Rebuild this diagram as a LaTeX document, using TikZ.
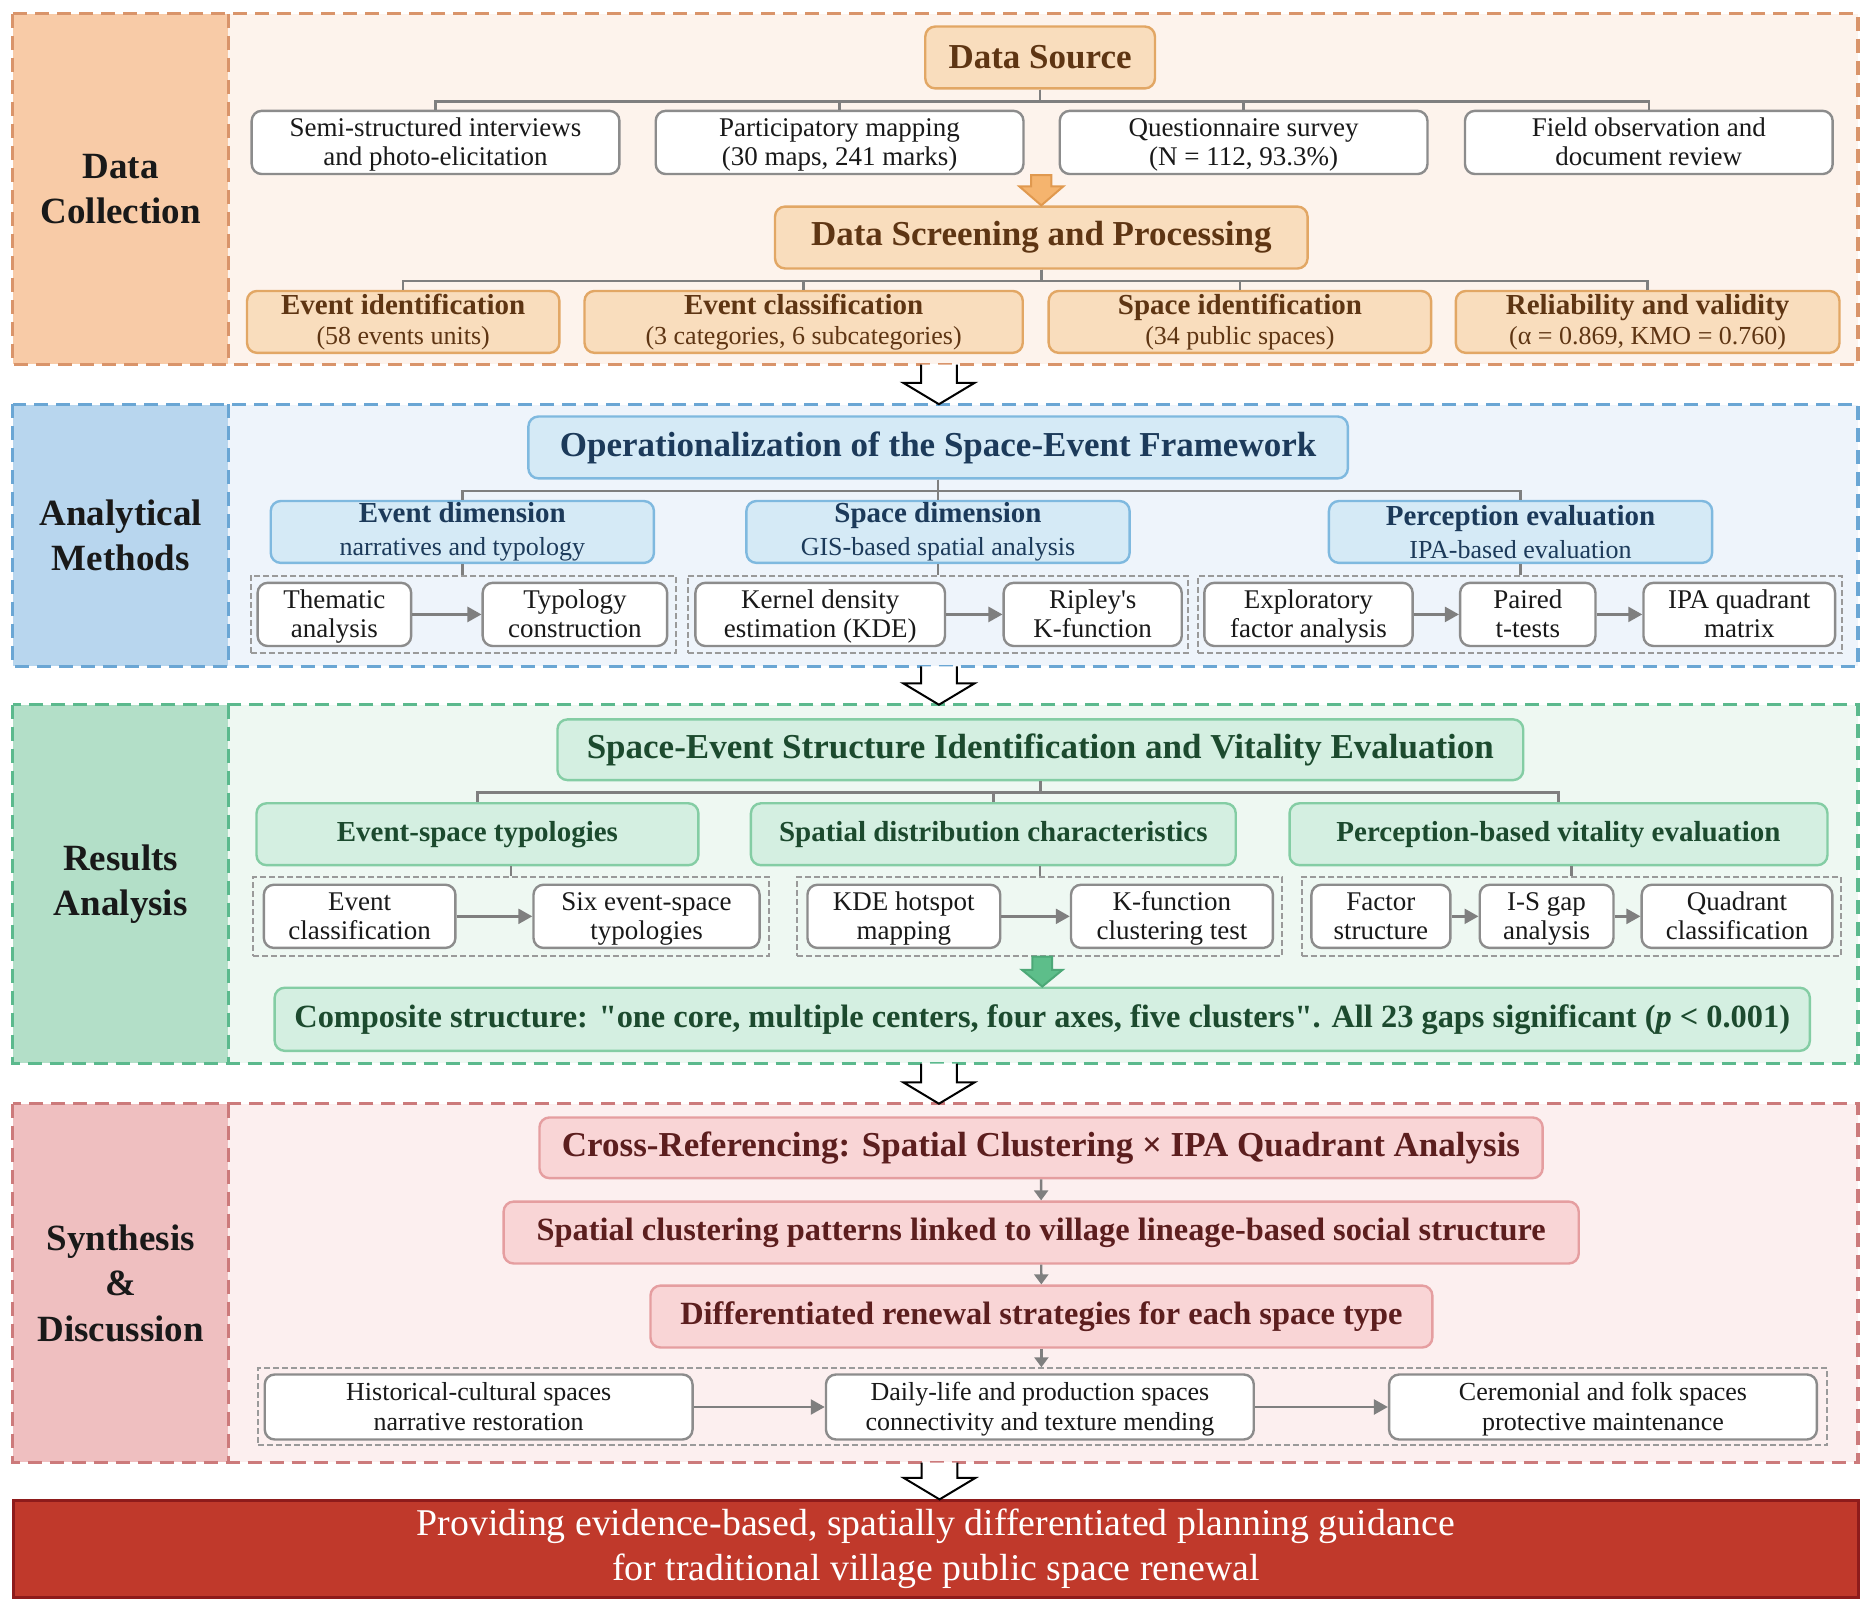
\documentclass[tikz,border=0pt]{standalone}
\usepackage{fontspec}
\setmainfont{Liberation Serif}
\usetikzlibrary{calc,arrows.meta}

% colours
\definecolor{orpanel}{HTML}{FDF3EC}
\definecolor{orlabel}{HTML}{F8CBA7}
\definecolor{orborder}{HTML}{D9946A}
\definecolor{orfill}{HTML}{F9DDBD}
\definecolor{orbox}{HTML}{E2A765}
\definecolor{ortext}{HTML}{5E3513}
\definecolor{orarrow}{HTML}{F5B46E}
\definecolor{orarrowd}{HTML}{E0994F}
\definecolor{blpanel}{HTML}{EEF4FB}
\definecolor{bllabel}{HTML}{B8D6EE}
\definecolor{blborder}{HTML}{6AA6D4}
\definecolor{blfill}{HTML}{D5EAF6}
\definecolor{blbox}{HTML}{7FB9DF}
\definecolor{bltext}{HTML}{1C3A5A}
\definecolor{grpanel}{HTML}{EEF8F2}
\definecolor{grlabel}{HTML}{B3DFC8}
\definecolor{grborder}{HTML}{5BB98D}
\definecolor{grfill}{HTML}{D4EFE1}
\definecolor{grbox}{HTML}{84CDA4}
\definecolor{grtext}{HTML}{1C4A2E}
\definecolor{grarrow}{HTML}{5DBE8A}
\definecolor{grarrowd}{HTML}{4CA877}
\definecolor{rdpanel}{HTML}{FCEFEF}
\definecolor{rdlabel}{HTML}{EFBFC0}
\definecolor{rdborder}{HTML}{CC7A7B}
\definecolor{rdfill}{HTML}{F9D5D6}
\definecolor{rdbox}{HTML}{E59EA0}
\definecolor{rdtext}{HTML}{5C1E1E}
\definecolor{finfill}{HTML}{C0392B}
\definecolor{findraw}{HTML}{8E1B1B}
\definecolor{boxgray}{HTML}{8C8C8C}
\definecolor{grpgray}{HTML}{9A9A9A}
\definecolor{linegray}{HTML}{7F7F7F}

% fonts
\newcommand{\fsec}{\fontsize{18.5}{22.6}\selectfont\bfseries}
\newcommand{\ftitle}{\fontsize{17.5}{19}\selectfont\bfseries}
\newcommand{\fpink}{\fontsize{16.2}{19}\selectfont\bfseries}
\newcommand{\fhead}{\fontsize{14.5}{16}\selectfont\bfseries}
\newcommand{\fsub}{\fontsize{13}{15}\selectfont}
\newcommand{\fsmall}{\fontsize{13.5}{14.3}\selectfont}
\newcommand{\fcomp}{\fontsize{16.2}{18}\selectfont\bfseries}
\newcommand{\ffin}{\fontsize{18.9}{22.6}\selectfont}
\newcommand{\tstrut}{\rule{0pt}{13pt}}

\newcommand{\un}{0.595pt}
% block arrows
\newcommand{\fatarrow}[6]{%
  \draw[#1] ($(#2)+(-#4,0)$) -- ($(#3)+(-#4,-#6)$) -- ($(#3)+(-#5,-#6)$) -- (#3)
    -- ($(#3)+(#5,-#6)$) -- ($(#3)+(#4,-#6)$) -- ($(#2)+(#4,0)$) -- cycle;}
\newcommand{\panelarrow}[2]{%
  \draw[bigarrow] ($(#1)+(-15,0)$) -- ($(#2)+(-15,-18)$) -- ($(#2)+(-30,-18)$) -- (#2)
    -- ($(#2)+(30,-18)$) -- ($(#2)+(15,-18)$) -- ($(#1)+(15,0)$);}

\begin{document}
\begin{tikzpicture}[x=0.595pt, y=-0.595pt,
    wh/.style 2 args={minimum width=#1*\un, minimum height=#2*\un},
    panel/.style={inner sep=0pt},
    pborder/.style={line width=1.6pt, dash pattern=on 7pt off 4pt},
    labcol/.style={inner sep=0pt, anchor=north west, align=center, text=black!90, font=\fsec},
    cbox/.style={rounded corners=5pt, line width=1.2pt, inner sep=0pt, align=center},
    wbox/.style={cbox, draw=boxgray, fill=white, text=black!90, font=\fsmall},
    obox/.style={cbox, draw=orbox, fill=orfill, text=ortext},
    bbox/.style={cbox, draw=blbox, fill=blfill, text=bltext},
    gbox/.style={cbox, draw=grbox, fill=grfill, text=grtext},
    rbox/.style={cbox, draw=rdbox, fill=rdfill, text=rdtext},
    grp/.style={draw=grpgray, line width=1pt, dash pattern=on 3pt off 1.5pt, inner sep=0pt},
    conn/.style={draw=linegray, line width=1.2pt},
    harrow/.style={conn, -{Triangle[length=7pt, width=7.5pt]}},
    varrow/.style={conn, -{Triangle[length=5pt, width=7pt]}},
    bigarrow/.style={draw=black, fill=white, line width=1pt, line join=miter}]

    \useasboundingbox (0,0) rectangle (1568,1350);

    % Panels
    \foreach \n/\y/\h/\col/\txt in {p1/159/294/or/{Data\\Collection},
        p2/449.8/219.6/bl/{Analytical\\Methods},
        p3/743/301/gr/{Results\\Analysis},
        p4/1078.3/301/rd/{Synthesis\\\&\\Discussion}}
        {
            \node[panel, fill=\col panel, wh={1550}{\h}] (\n) at (786,\y) {};
            \node[labcol, fill=\col label, wh={181}{\h}] (l\n) at (\n.north west) {\txt};
            \draw[pborder, draw=\col border] (\n.north west) rectangle (\n.south east)
                (l\n.north east) -- (l\n.south east);
        }

    % Data collection
    \node[obox, font=\ftitle, wh={193}{52}] (src) at (874,48.3) {Data Source};
    \foreach \n/\x/\txt in {ds1/366/{Semi-structured interviews\\and photo-elicitation},
        ds2/705.5/{Participatory mapping\\(30 maps, 241 marks)},
        ds3/1045/{Questionnaire survey\\(N = 112, 93.3\%)},
        ds4/1385.5/{Field observation and\\document review}}
        {
            \node[wbox, wh={309}{52}] (\n) at (\x,119.7) {\tstrut\txt\strut};
            \draw[conn] (src.south) -- ++(0,10) -| (\n.north);
        }

    \node[obox, font=\ftitle, wh={447.5}{52}] (scr) at (875,199.6) {Data Screening and Processing};
    \coordinate (oa) at (scr.north |- ds2.south);
    \fatarrow{draw=orarrowd, fill=orarrow, line width=1pt}{oa}{scr.north}{8.5}{18.5}{16}

    \foreach \n/\x/\w/\ha/\hb in {ob1/338.8/262.5/{Event identification}/{(58 events units)},
        ob2/675.3/368.3/{Event classification}/{(3 categories, 6 subcategories)},
        ob3/1041.9/321.4/{Space identification}/{(34 public spaces)},
        ob4/1384.5/322.4/{Reliability and validity}/{(α = 0.869, KMO = 0.760)}}
        {
            \node[obox, font=\fsub, wh={\w}{52}] (\n) at (\x,270.5) {{\fhead \ha}\\\hb};
            \draw[conn] (scr.south) -- ++(0,9.5) -| (\n.north);
        }

    % Analytical methods
    \node[bbox, font=\ftitle, wh={688.6}{52}] (op) at (788.3,376) {Operationalization of the Space-Event Framework};
    \foreach \n/\x/\ha/\hb in {bd1/388.5/Event dimension/narratives and typology,
        bd2/788.2/Space dimension/GIS-based spatial analysis,
        bd3/1277.7/Perception evaluation/IPA-based evaluation}
        {
            \node[bbox, font=\fsub, wh={322}{52}] (\n) at (\x,447) {{\fhead \ha}\\[1.5pt]\hb};
            \draw[conn] (op.south) -- ++(0,9.5) -| (\n.north);
        }

    \node[grp, wh={357.2}{65.3}] (bg1) at (389.2,516.4) {};
    \node[grp, wh={420.2}{65.3}] (bg2) at (787.9,516.4) {};
    \node[grp, wh={541.3}{65.3}] (bg3) at (1277.4,516.4) {};
    \foreach \i in {1,2,3}
        \draw[conn] (bd\i.south) -- (bd\i.south |- bg\i.north);

    \foreach \n/\x/\w/\txt in {ta/281/129/{Thematic\\analysis},
        tc/483.1/155/{Typology\\construction},
        kde/689.2/209.7/{Kernel density\\estimation (KDE)},
        rk/918.2/149.6/{Ripley\textquotesingle s\\K-function},
        efa/1099.5/175/{Exploratory\\factor analysis},
        pt/1283.8/113.7/{Paired\\t-tests},
        ipa/1461.5/161/{IPA quadrant\\matrix}}
        \node[wbox, wh={\w}{52.6}] (\n) at (\x,516.3) {\tstrut\txt\strut};
    \foreach \a/\b in {ta/tc, kde/rk, efa/pt, pt/ipa}
        \draw[harrow] (\a) -- (\b);

    % Results analysis
    \node[gbox, font=\ftitle, wh={811.5}{51}] (se) at (874.2,630) {Space-Event Structure Identification and Vitality Evaluation};
    \foreach \n/\x/\w/\txt in {ga1/401.2/371.3/Event-space typologies,
        ga2/834.7/407.4/Spatial distribution characteristics,
        ga3/1309.6/452/Perception-based vitality evaluation}
        {
            \node[gbox, font=\fhead, wh={\w}{52}] (\n) at (\x,701) {\txt};
            \draw[conn] (se.south) -- ++(0,9.5) -| (\n.north);
        }

    \node[grp, wh={433.7}{66}] (rg1) at (429.5,770) {};
    \node[grp, wh={407.7}{66}] (rg2) at (873.8,770) {};
    \node[grp, wh={453.4}{66}] (rg3) at (1320.5,770) {};
    \foreach \i in {1,2,3}
        \draw[conn] (rg\i.north) -- (rg\i.north |- ga\i.south);

    \foreach \n/\x/\w/\txt in {ec/302.2/161/{Event\\classification},
        six/543.3/190/{Six event-space\\typologies},
        kh/759.5/162/{KDE hotspot\\mapping},
        kf/984.8/169.7/{K-function\\clustering test},
        fs/1160.4/116.8/{Factor\\structure},
        isg/1299.6/112.4/{I-S gap\\analysis},
        qc/1459.6/160.2/{Quadrant\\classification}}
        \node[wbox, wh={\w}{52}] (\n) at (\x,770) {\tstrut\txt\strut};
    \foreach \a/\b in {ec/six, kh/kf, fs/isg, isg/qc}
        \draw[harrow] (\a) -- (\b);

    \node[gbox, font=\fcomp, wh={1290}{53}] (comp) at (875.8,856.5)
        {Composite structure: \textquotedbl one core, multiple centers, four axes, five clusters\textquotedbl . All 23 gaps significant ({\itshape p} < 0.001)};
    \coordinate (ga) at (comp.north |- rg2.south);
    \fatarrow{draw=grarrowd, fill=grarrow, line width=1pt}{ga}{comp.north}{8.3}{17}{14}

    % Synthesis and discussion
    \node[rbox, font=\ftitle, wh={843}{51}] (cr) at (874.8,964.5) {Cross-Referencing: Spatial Clustering × IPA Quadrant Analysis};
    \node[rbox, font=\fpink, wh={903.4}{52}] (sc) at (874.9,1035.7) {Spatial clustering patterns linked to village lineage-based social structure};
    \node[rbox, font=\fpink, wh={657}{52}] (df) at (875.1,1106.3) {Differentiated renewal strategies for each space type};
    \node[grp, wh={1319}{64.5}] (sg) at (876.1,1182) {};
    \draw[varrow] (cr) -- (sc);
    \draw[varrow] (sc) -- (df);
    \draw[varrow] (df.south) -- (df.south |- sg.north);

    \foreach \n/\x/\txt in {h1/402.2/{Historical-cultural spaces\\narrative restoration},
        h2/873.8/{Daily-life and production spaces\\connectivity and texture mending},
        h3/1347/{Ceremonial and folk spaces\\protective maintenance}}
        \node[wbox, font=\fsub, wh={359.5}{51}] (\n) at (\x,1182.3) {\tstrut\txt\strut};
    \draw[harrow] (h1) -- (h2);
    \draw[harrow] (h2) -- (h3);

    % Outcome
    \node[draw=findraw, fill=finfill, line width=1.5pt, inner sep=0pt, align=center, text=white,
        font=\ffin, wh={1551}{81}] (fin) at (786.5,1301.7)
        {Providing evidence-based, spatially differentiated planning guidance\\for traditional village public space renewal};

    % Arrows between stages
    \foreach \a/\b in {p1/p2, p2/p3, p3/p4, p4/fin}
        {
            \coordinate (tip) at ($(\b.north)+(3,0)$);
            \coordinate (top) at (tip |- \a.south);
            \panelarrow{top}{tip}
        }

\end{tikzpicture}
\end{document}
